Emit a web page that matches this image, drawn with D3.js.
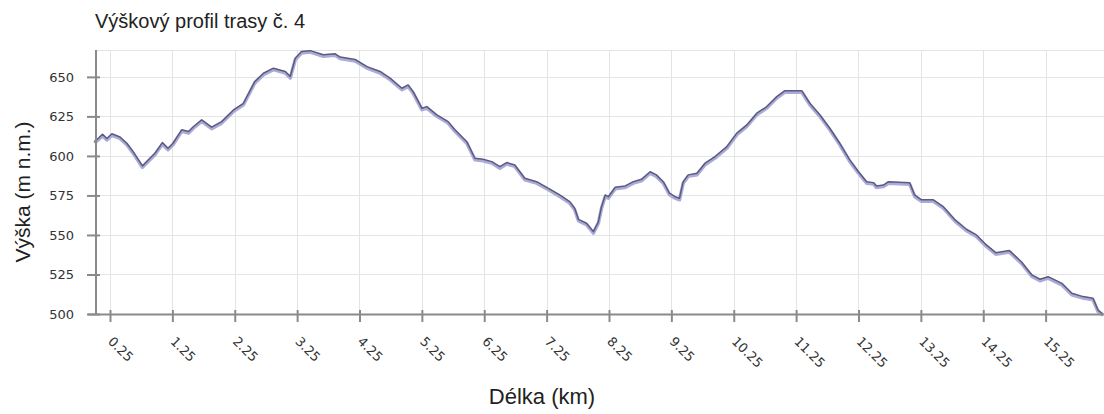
<!DOCTYPE html>
<html>
<head>
<meta charset="utf-8">
<script src="https://cdn.jsdelivr.net/npm/d3@7/dist/d3.min.js"></script>
<style>
  html, body { margin: 0; padding: 0; background: #fff; }
  svg { display: block; font-family: "Liberation Sans", Arial, sans-serif; }
</style>
</head>
<body>
<svg id="chart" width="1104" height="414"></svg>
<script>
const title = "Výškový profil trasy č. 4";
const xTitle = "Délka (km)";
const yTitle = "Výška (m n.m.)";

const distanceKm = [0, 0.06, 0.13, 0.20, 0.28, 0.41, 0.52, 0.62, 0.77, 0.89, 0.97, 1.09, 1.18, 1.26, 1.40, 1.51, 1.59, 1.72, 1.88, 2.04,
  2.23, 2.39, 2.57, 2.71, 2.87, 3.06, 3.14, 3.22, 3.32, 3.46, 3.67, 3.86, 3.94, 4.18, 4.37, 4.58, 4.74, 4.93, 5.03, 5.11,
  5.25, 5.33, 5.49, 5.67, 5.78, 5.97, 6.10, 6.23, 6.37, 6.50, 6.61, 6.74, 6.90, 7.09, 7.28, 7.46, 7.62, 7.70, 7.76, 7.89,
  8.00, 8.08, 8.13, 8.19, 8.24, 8.35, 8.51, 8.64, 8.77, 8.91, 9.01, 9.12, 9.22, 9.31, 9.38, 9.44, 9.52, 9.66, 9.79, 9.95,
  10.14, 10.30, 10.46, 10.62, 10.78, 10.94, 11.07, 11.34, 11.47, 11.63, 11.79, 11.95, 12.11, 12.25, 12.38, 12.49, 12.54, 12.65, 12.73, 13.07,
  13.15, 13.26, 13.45, 13.61, 13.80, 13.98, 14.14, 14.30, 14.45, 14.67, 14.86, 15.03, 15.16, 15.29, 15.51, 15.67, 15.85, 16.01, 16.09, 16.17];
const elevationM = [609, 611, 613.7, 611, 614, 612, 608, 602.7, 593.7, 598.5, 601.7, 608.4, 604.9, 608, 616.5, 615.4, 618.6, 622.8, 618.2, 621.7,
  629.1, 633.3, 647, 652.3, 655.5, 653.4, 650.2, 661.8, 666, 666.6, 664, 664.6, 662.5, 661, 656.5, 653.4, 649.2, 642.8, 644.9, 640.7,
  630.2, 631.2, 626, 621.7, 616.5, 609, 598.5, 597.9, 596.4, 593.2, 595.8, 594.3, 585.9, 583.7, 579.5, 575.3, 571.1, 566.9, 559.9, 557.4,
  552.1, 558.4, 567.9, 575.3, 574.2, 580.2, 581, 583.7, 585.2, 590, 588, 583.7, 576.4, 574.2, 573.2, 583.7, 588, 589, 595.4, 599.6,
  605.9, 614.4, 619.6, 627, 631.2, 637.5, 641.3, 641.3, 633.3, 626, 617.5, 608, 597.5, 590, 583.7, 583.1, 581, 581.6, 583.7, 583.1,
  575.3, 572.2, 572.2, 567.9, 559.5, 553.6, 550, 543.7, 538.8, 540.1, 533.1, 524.7, 522, 523.6, 519.4, 513.1, 511, 509.9, 502.5, 500];
const xTickValues = [0.25, 1.25, 2.25, 3.25, 4.25, 5.25, 6.25, 7.25, 8.25, 9.25, 10.25, 11.25, 12.25, 13.25, 14.25, 15.25];
const yTickValues = [500, 525, 550, 575, 600, 625, 650];

(function () {
const data = distanceKm.map((d, i) => ({ x: d, y: elevationM[i] }));

const svg = d3.select("#chart");
const pLeft = 94.4, pRight = 1103, pTop = 50, pBottom = 314;

const x = d3.scaleLinear().domain([0, 16.17]).range([pLeft, pRight]);
const y = d3.scaleLinear().domain([500, 667]).range([pBottom, pTop]);

// grid
const grid = svg.append("g");
grid.selectAll("line.v").data(xTickValues).join("line")
  .attr("x1", d => Math.round(x(d)) + 0.5).attr("x2", d => Math.round(x(d)) + 0.5)
  .attr("y1", pTop).attr("y2", pBottom)
  .attr("stroke", "#e4e4e4").attr("stroke-width", 1);
grid.selectAll("line.h").data(yTickValues.concat([667])).join("line")
  .attr("x1", 96).attr("x2", 1104)
  .attr("y1", d => Math.round(y(d)) + 0.5).attr("y2", d => Math.round(y(d)) + 0.5)
  .attr("stroke", "#e4e4e4").attr("stroke-width", 1);

// line
const line = d3.line().x(d => x(d.x)).y(d => y(d.y)).curve(d3.curveLinear);
svg.append("path").datum(data)
  .attr("d", line)
  .attr("transform", "translate(0,1.5)")
  .attr("fill", "none").attr("stroke", "#ababda").attr("stroke-width", 3.5)
  .attr("stroke-linejoin", "round");
svg.append("path").datum(data)
  .attr("d", line)
  .attr("fill", "none").attr("stroke", "#5b5b7f").attr("stroke-width", 1.5)
  .attr("stroke-linejoin", "round");

// axes
const yAxis = d3.axisLeft(y).tickValues(yTickValues).tickSize(0).tickPadding(0);
const gy = svg.append("g").attr("transform", "translate(96,0)").call(yAxis);
gy.select(".domain").remove();
gy.selectAll(".tick text").attr("x", -22).attr("font-size", 13).attr("fill", "#333")
  .attr("font-family", "'DejaVu Sans', Verdana, sans-serif");
gy.selectAll(".tick").append("line").attr("x1", -9).attr("x2", 4)
  .attr("stroke", "#8a8a8a").attr("stroke-width", 2);
svg.append("line").attr("x1", 96).attr("x2", 96).attr("y1", pTop).attr("y2", pBottom + 1)
  .attr("stroke", "#8a8a8a").attr("stroke-width", 2);

const xAxis = d3.axisBottom(x).tickValues(xTickValues).tickSize(0).tickFormat(d3.format(".2f"));
const gx = svg.append("g").attr("transform", `translate(0,${pBottom})`).call(xAxis);
gx.select(".domain").remove();
gx.selectAll(".tick").append("line").attr("y1", -4).attr("y2", 8)
  .attr("stroke", "#8a8a8a").attr("stroke-width", 2);
gx.selectAll(".tick text")
  .attr("font-size", 13).attr("fill", "#333")
  .attr("font-family", "'DejaVu Sans', Verdana, sans-serif")
  .attr("text-anchor", "start")
  .attr("x", 0).attr("y", 0).attr("dy", "0.35em")
  .attr("transform", "translate(0,25) rotate(45)");
svg.append("line").attr("x1", 88).attr("x2", 1104).attr("y1", pBottom + 0.5).attr("y2", pBottom + 0.5)
  .attr("stroke", "#8a8a8a").attr("stroke-width", 2);

// titles
svg.append("text").attr("x", 95).attr("y", 28).attr("font-size", 20).attr("fill", "#222")
  .text(title);
svg.append("text").attr("x", 542).attr("y", 404).attr("text-anchor", "middle")
  .attr("font-size", 22).attr("fill", "#222").text(xTitle);
svg.append("text").attr("transform", "translate(30,192) rotate(-90)").attr("text-anchor", "middle")
  .attr("font-size", 21).attr("fill", "#222").text(yTitle);
})();
</script>
</body>
</html>
